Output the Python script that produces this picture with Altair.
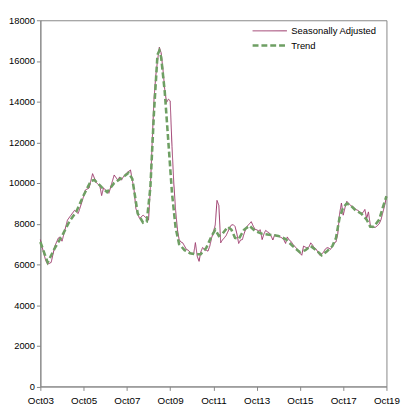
import altair as alt
import pandas as pd

series_names = ["Seasonally Adjusted", "Trend"]
series_colors = ["#993366", "#6E9F63"]
series_dash = [[1, 0], [6, 3]]
series_width = [1.0, 2.6]

sa_dates = [
    "2003-10", "2003-12", "2004-01", "2004-02", "2004-03", "2004-04", "2004-06",
    "2004-08", "2004-09", "2004-10", "2005-01", "2005-03", "2005-05", "2005-07",
    "2005-09", "2005-11", "2006-01", "2006-03", "2006-05", "2006-07", "2006-08",
    "2006-09", "2006-12", "2007-03", "2007-05", "2007-06", "2007-07", "2007-08",
    "2007-10", "2007-12", "2008-02", "2008-03", "2008-05", "2008-07", "2008-10",
    "2008-11", "2008-12", "2009-01", "2009-02", "2009-03", "2009-04", "2009-05",
    "2009-06", "2009-07", "2009-08", "2009-09", "2009-10", "2009-11", "2009-12",
    "2010-01", "2010-02", "2010-03", "2010-04", "2010-05", "2010-06", "2010-07",
    "2010-08", "2010-09", "2010-10", "2010-11", "2010-12", "2011-01", "2011-02",
    "2011-03", "2011-04", "2011-05", "2011-06", "2011-07", "2011-08", "2011-09",
    "2011-10", "2011-11", "2011-12", "2012-01", "2012-02", "2012-03", "2012-04",
    "2012-05", "2012-06", "2012-07", "2012-08", "2012-09", "2012-10", "2012-11",
    "2012-12", "2013-01", "2013-02", "2013-03", "2013-04", "2013-05", "2013-06",
    "2013-07", "2013-08", "2013-09", "2013-10", "2013-11", "2013-12", "2014-01",
    "2014-02", "2014-03", "2014-04", "2014-05", "2014-06", "2014-07", "2014-08",
    "2014-09", "2014-10", "2014-11", "2014-12", "2015-01", "2015-02", "2015-03",
    "2015-04", "2015-05", "2015-06", "2015-07", "2015-08", "2015-09", "2015-10",
    "2015-11", "2015-12", "2016-01", "2016-02", "2016-03", "2016-04", "2016-05",
    "2016-06", "2016-07", "2016-08", "2016-09", "2016-10", "2016-11", "2016-12",
    "2017-01", "2017-02", "2017-03", "2017-04", "2017-05", "2017-06", "2017-07",
    "2017-08", "2017-09", "2017-10", "2017-11", "2017-12", "2018-01", "2018-02",
    "2018-03", "2018-04", "2018-05", "2018-06", "2018-07", "2018-08", "2018-09",
    "2018-10", "2018-11", "2018-12", "2019-01", "2019-02", "2019-03", "2019-04",
    "2019-05", "2019-06", "2019-07", "2019-08", "2019-09", "2019-10",
]
sa_values = [
    7220, 6500, 6175, 6015, 6050, 6100, 6900,
    7300, 7350, 7140, 8180, 8420, 8660, 8500,
    9065, 9660, 9755, 10460, 10025, 9865, 9385,
    9755, 9500, 10395, 10140, 10300, 10140, 10300,
    10510, 10640, 9625, 8745, 8260, 8420, 8180,
    9800, 12000, 14120, 15300, 16000, 16680, 16400,
    15600, 14600, 13960, 14120, 14040, 11800, 10000,
    8660, 7700, 7220, 7100, 7060, 6900, 6740,
    6700, 6600, 6500, 6500, 7070, 6400, 6150,
    6600, 6830, 6750, 6700, 6650, 6900, 7300,
    7600, 7940, 9145, 8900, 7060, 7200, 7300,
    7410, 7600, 7800, 7940, 7950, 7860, 7500,
    7030, 7200, 7220, 7500, 7750, 7900, 8000,
    8100, 7900, 7730, 7700, 7650, 7700, 7220,
    7500, 7670, 7600, 7550, 7400, 7200, 7460,
    7400, 7380, 7350, 7300, 7220, 7030, 7350,
    7200, 7140, 7000, 6900, 6800, 6650, 6550,
    6450, 6900, 6850, 6800, 6850, 7060, 6950,
    6800, 6750, 6600, 6450, 6500, 6600, 6750,
    6820, 6800, 6740, 6900, 7060, 7100, 7500,
    8500, 9015, 8420, 8800, 9100, 9000, 8900,
    8850, 8800, 8700, 8660, 8600, 8500, 8550,
    8700, 8260, 8580, 7940, 7800, 7830, 7830,
    7900, 8000, 8200, 8550, 8900, 9340,
]

trend_dates = [
    "2003-10", "2004-02", "2004-06", "2004-10", "2005-02", "2005-06", "2005-10",
    "2006-02", "2006-04", "2006-08", "2006-11", "2007-03", "2007-08", "2007-11",
    "2008-01", "2008-04", "2008-07", "2008-09", "2008-11", "2009-01", "2009-03",
    "2009-04", "2009-05", "2009-07", "2009-09", "2009-11", "2010-01", "2010-03",
    "2010-06", "2010-09", "2010-12", "2011-03", "2011-06", "2011-09", "2011-11",
    "2012-01", "2012-03", "2012-06", "2012-08", "2012-10", "2012-12", "2013-03",
    "2013-06", "2013-09", "2014-01", "2014-06", "2014-10", "2015-02", "2015-06",
    "2015-10", "2016-01", "2016-04", "2016-07", "2016-10", "2017-01", "2017-04",
    "2017-06", "2017-08", "2017-10", "2017-12", "2018-02", "2018-05", "2018-08",
    "2018-11", "2019-01", "2019-03", "2019-06", "2019-08", "2019-10",
]
trend_values = [
    7100, 6100, 6800, 7400, 8100, 8600, 9400,
    10100, 10150, 9800, 9550, 10000, 10300, 10500,
    10200, 8500, 8050, 8100, 9800, 13500, 16300,
    16500, 16200, 14500, 12000, 9500, 7800, 7000,
    6700, 6550, 6500, 6500, 6800, 7400, 7700,
    7400, 7500, 7850, 7700, 7300, 7250, 7700,
    7900, 7650, 7500, 7450, 7400, 7250, 6900,
    6600, 6700, 6900, 6700, 6450, 6650, 6900,
    7300, 8300, 8800, 9000, 8900, 8650, 8500,
    8200, 7850, 7850, 8200, 8800, 9350,
]

x_tick_years = [2003, 2005, 2007, 2009, 2011, 2013, 2015, 2017, 2019]
y_ticks = [0, 2000, 4000, 6000, 8000, 10000, 12000, 14000, 16000, 18000]

rows = []
for d, v in zip(sa_dates, sa_values):
    rows.append({"date": pd.Timestamp(d + "-01"), "value": v, "series": series_names[0]})
for d, v in zip(trend_dates, trend_values):
    rows.append({"date": pd.Timestamp(d + "-01"), "value": v, "series": series_names[1]})
df = pd.DataFrame(rows)

axis_color = "#868686"
font = "Liberation Sans"

legend = alt.Legend(
    title=None,
    orient="none",
    legendX=215,
    legendY=3.5,
    symbolType="stroke",
    symbolSize=1225,
    clipHeight=14.6,
    labelFontSize=9.6,
    labelFont=font,
    labelColor="#000000",
    rowPadding=0,
    labelOffset=3,
    padding=0,
)

chart = (
    alt.Chart(df)
    .mark_line(interpolate="linear")
    .encode(
        x=alt.X(
            "date:T",
            scale=alt.Scale(
                domain=[
                    alt.DateTime(year=2003, month=10, date=1),
                    alt.DateTime(year=2019, month=10, date=1),
                ]
            ),
            axis=alt.Axis(
                title=None,
                values=[alt.DateTime(year=y, month=10, date=1) for y in x_tick_years],
                format="%b%y",
                grid=False,
                labelOverlap=False,
                labelFlush=False,
                tickSize=4,
                labelPadding=5,
                labelFontSize=10,
            ),
        ),
        y=alt.Y(
            "value:Q",
            scale=alt.Scale(domain=[0, 18000], nice=False),
            axis=alt.Axis(
                title=None,
                values=y_ticks,
                format="d",
                grid=False,
                tickSize=4,
                labelPadding=2,
                labelFontSize=9.5,
            ),
        ),
        color=alt.Color(
            "series:N",
            scale=alt.Scale(domain=series_names, range=series_colors),
            legend=legend,
        ),
        strokeDash=alt.StrokeDash(
            "series:N",
            scale=alt.Scale(domain=series_names, range=series_dash),
            legend=legend,
        ),
        strokeWidth=alt.StrokeWidth(
            "series:N",
            scale=alt.Scale(domain=series_names, range=series_width),
            legend=legend,
        ),
        order=alt.Order("date:T"),
    )
    .properties(
        width=353,
        height=373.5,
        autosize=alt.AutoSizeParams(type="none"),
        padding={"left": 33, "top": 8.5, "right": 23, "bottom": 20},
        background="white",
    )
    .configure_view(stroke=axis_color, strokeWidth=1)
    .configure_axis(
        domainColor=axis_color,
        tickColor=axis_color,
        labelColor="#000000",
        labelFont=font,
    )
)

chart.save("out.html", embed_options={"renderer": "svg", "actions": False})
